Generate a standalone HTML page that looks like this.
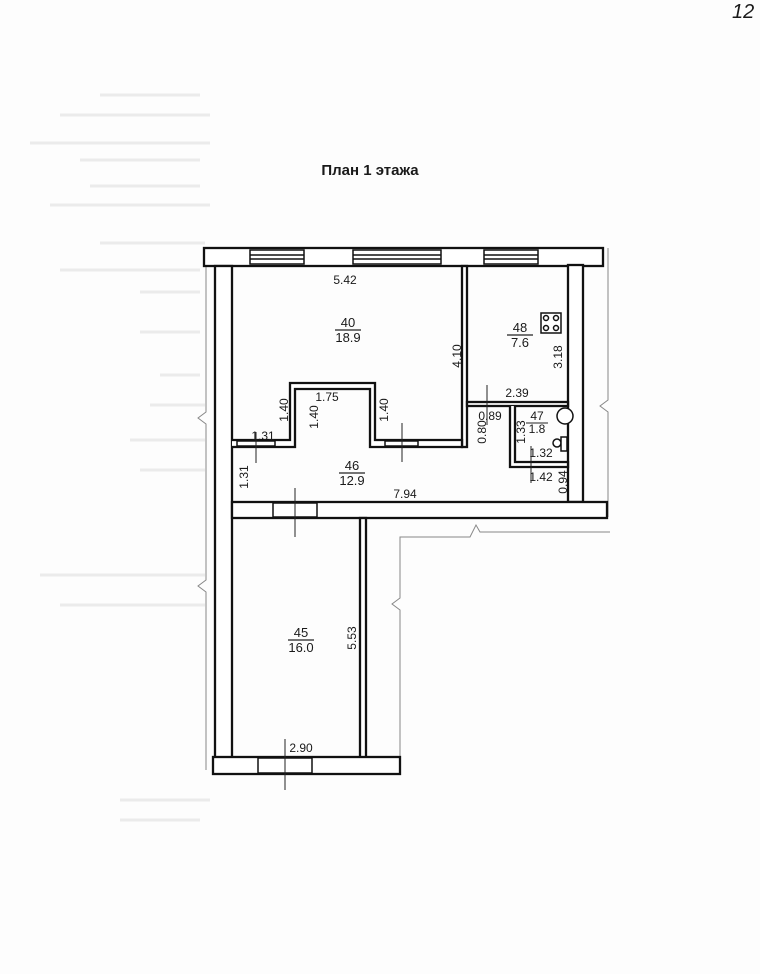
<!DOCTYPE html>
<html><head><meta charset="utf-8"><style>
html,body{margin:0;padding:0;background:#fff;}
svg{display:block}
text{font-family:"Liberation Sans",sans-serif;fill:#1a1a1a}
</style></head><body>
<svg width="760" height="974" viewBox="0 0 760 974" xmlns="http://www.w3.org/2000/svg">
<rect width="760" height="974" fill="#fdfdfd"/>
<g stroke="#ebebeb" stroke-width="3">
<line x1="100" y1="95" x2="200" y2="95"/><line x1="60" y1="115" x2="210" y2="115"/>
<line x1="30" y1="143" x2="210" y2="143"/><line x1="80" y1="160" x2="200" y2="160"/>
<line x1="90" y1="186" x2="200" y2="186"/><line x1="50" y1="205" x2="210" y2="205"/>
<line x1="100" y1="243" x2="205" y2="243"/><line x1="60" y1="270" x2="200" y2="270"/>
<line x1="140" y1="292" x2="200" y2="292"/><line x1="140" y1="332" x2="200" y2="332"/>
<line x1="160" y1="375" x2="200" y2="375"/><line x1="150" y1="405" x2="205" y2="405"/>
<line x1="130" y1="440" x2="205" y2="440"/><line x1="140" y1="470" x2="205" y2="470"/>
<line x1="40" y1="575" x2="205" y2="575"/><line x1="60" y1="605" x2="205" y2="605"/>
<line x1="120" y1="800" x2="210" y2="800"/><line x1="120" y1="820" x2="200" y2="820"/>
</g>
<text x="732" y="18" font-size="20" font-style="italic" fill="#333">12</text>
<text x="370" y="175" font-size="15" font-weight="bold" text-anchor="middle" fill="#333">План 1 этажа</text>

<g fill="none" stroke="#888" stroke-width="1">
<polyline points="206,265 206,412 198,418 206,424 206,580 198,586 206,592 206,770"/>
<polyline points="608,248 608,400 600,406 608,412 608,517"/>
<polyline points="400,774 400,610 392,604 400,598 400,537 470,537 476,525 480,532 610,532"/>
</g>

<g fill="#fff" stroke="#111" stroke-width="2.3">
<rect x="204" y="248" width="399" height="18"/>
<rect x="215" y="266" width="17" height="492"/>
<rect x="568" y="265" width="15" height="237"/>
<rect x="232" y="502" width="375" height="16"/>
<rect x="360" y="518" width="6" height="240"/>
<rect x="213" y="757" width="187" height="17"/>
<rect x="462" y="266" width="5" height="181"/>
<polyline points="232,440 290,440 290,383 375,383 375,440 462,440 462,447 370,447 370,389 295,389 295,447 232,447" />
<rect x="467" y="402" width="101" height="4"/>
<polyline points="510,406 510,467 568,467 568,462 515,462 515,406" />
</g>
<g fill="#fff" stroke="#111" stroke-width="1.5">
<rect x="250" y="250" width="54" height="14"/><line x1="250" y1="255" x2="304" y2="255"/><line x1="250" y1="259" x2="304" y2="259"/>
<rect x="353" y="250" width="88" height="14"/><line x1="353" y1="255" x2="441" y2="255"/><line x1="353" y1="259" x2="441" y2="259"/>
<rect x="484" y="250" width="54" height="14"/><line x1="484" y1="255" x2="538" y2="255"/><line x1="484" y1="259" x2="538" y2="259"/>
<rect x="273" y="503" width="44" height="14"/>
<rect x="258" y="758" width="54" height="15"/>
<rect x="237" y="441" width="38" height="5"/>
<rect x="385" y="441" width="33" height="5"/>
<rect x="541" y="313" width="20" height="20"/>
<circle cx="546" cy="318" r="2.5"/><circle cx="556" cy="318" r="2.5"/><circle cx="546" cy="328" r="2.5"/><circle cx="556" cy="328" r="2.5"/>
<circle cx="565" cy="416" r="8"/>
<circle cx="557" cy="443" r="4"/>
<rect x="561" y="437" width="6" height="14"/>
</g>
<g stroke="#222" stroke-width="1">
<line x1="256" y1="432" x2="256" y2="463"/>
<line x1="402" y1="423" x2="402" y2="462"/>
<line x1="487" y1="385" x2="487" y2="425"/>
<line x1="531" y1="446" x2="531" y2="483"/>
<line x1="295" y1="488" x2="295" y2="537"/>
<line x1="285" y1="739" x2="285" y2="790"/>
</g>
<g font-size="12">
<text x="345" y="284" text-anchor="middle">5.42</text>
<text x="348" y="327" text-anchor="middle" font-size="13">40</text>
<line x1="335" y1="330" x2="361" y2="330" stroke="#222" stroke-width="1.3"/>
<text x="348" y="342" text-anchor="middle" font-size="13">18.9</text>
<text x="461" y="356" transform="rotate(-90 461 356)" text-anchor="middle">4.10</text>
<text x="520" y="332" text-anchor="middle" font-size="13">48</text>
<line x1="507" y1="335" x2="533" y2="335" stroke="#222" stroke-width="1.3"/>
<text x="520" y="347" text-anchor="middle" font-size="13">7.6</text>
<text x="562" y="357" transform="rotate(-90 562 357)" text-anchor="middle">3.18</text>
<text x="517" y="397" text-anchor="middle">2.39</text>
<text x="490" y="420" text-anchor="middle">0.89</text>
<text x="486" y="432" transform="rotate(-90 486 432)" text-anchor="middle">0.80</text>
<text x="537" y="420" text-anchor="middle">47</text>
<line x1="526" y1="423" x2="548" y2="423" stroke="#222"/>
<text x="537" y="433" text-anchor="middle">1.8</text>
<text x="525" y="432" transform="rotate(-90 525 432)" text-anchor="middle">1.33</text>
<text x="541" y="457" text-anchor="middle">1.32</text>
<text x="541" y="481" text-anchor="middle">1.42</text>
<text x="567" y="482" transform="rotate(-90 567 482)" text-anchor="middle">0.94</text>
<text x="327" y="401" text-anchor="middle">1.75</text>
<text x="288" y="410" transform="rotate(-90 288 410)" text-anchor="middle">1.40</text>
<text x="318" y="417" transform="rotate(-90 318 417)" text-anchor="middle">1.40</text>
<text x="388" y="410" transform="rotate(-90 388 410)" text-anchor="middle">1.40</text>
<text x="263" y="440" text-anchor="middle">1.31</text>
<text x="248" y="477" transform="rotate(-90 248 477)" text-anchor="middle">1.31</text>
<text x="352" y="470" text-anchor="middle" font-size="13">46</text>
<line x1="339" y1="473" x2="365" y2="473" stroke="#222" stroke-width="1.3"/>
<text x="352" y="485" text-anchor="middle" font-size="13">12.9</text>
<text x="405" y="498" text-anchor="middle">7.94</text>
<text x="301" y="637" text-anchor="middle" font-size="13">45</text>
<line x1="288" y1="640" x2="314" y2="640" stroke="#222" stroke-width="1.3"/>
<text x="301" y="652" text-anchor="middle" font-size="13">16.0</text>
<text x="356" y="638" transform="rotate(-90 356 638)" text-anchor="middle">5.53</text>
<text x="301" y="752" text-anchor="middle">2.90</text>
</g>
</svg>
</body></html>
